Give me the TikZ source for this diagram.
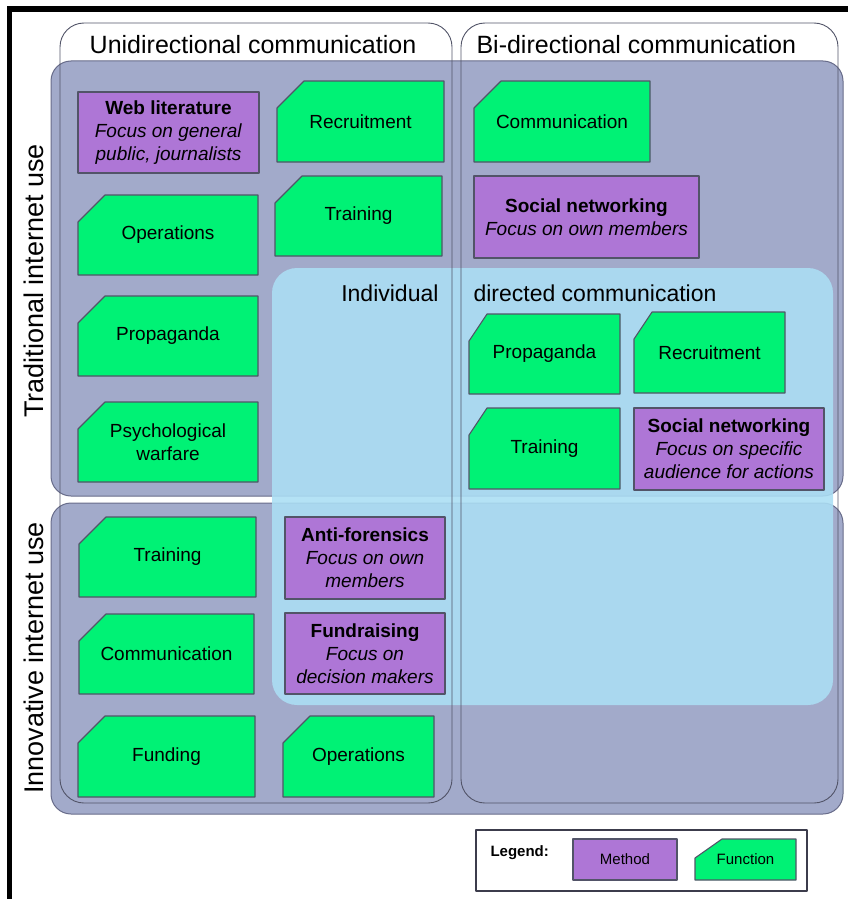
\documentclass[tikz,border=0pt]{standalone}
\usepackage{fontspec}
\setmainfont{Liberation Sans}
\usetikzlibrary{calc}

\definecolor{fngreen}{RGB}{0,242,117}
\definecolor{methodpurple}{RGB}{174,118,214}
\definecolor{usegrey}{RGB}{162,170,202}
\definecolor{useedge}{RGB}{104,108,138}
\definecolor{indblue}{RGB}{171,222,244}
\definecolor{boxedge}{RGB}{82,84,104}
\definecolor{legendedge}{RGB}{60,60,76}

% size of the cut corner of a function box
\def\cutx{27}
\def\cuty{27}

% function box: [label options]{name}{top left}{bottom right}{text}
\newcommand\fnbox[5][]{%
  \path (#3) coordinate (tl) (#4) coordinate (br);
  \filldraw[fnshape] (tl |- br) -| (br |- tl) -- ([xshift=\cutx]tl) -- ([yshift=-\cuty]tl) -- cycle;
  \node[boxlabel,#1] (#2) at ($(tl)!.5!(br)$) {#5};
}
% method box, same arguments
\newcommand\methodbox[5][]{%
  \path (#3) coordinate (tl) (#4) coordinate (br);
  \filldraw[methodshape] (tl) rectangle (br);
  \node[boxlabel,#1] (#2) at ($(tl)!.5!(br)$) {#5};
}

\begin{document}
\begin{tikzpicture}[x=1pt,y=-1pt,line join=round,
  rowbox/.style={fill=usegrey,draw=useedge,line width=1pt,rounded corners=20pt},
  colbox/.style={draw=boxedge,line width=.9pt,rounded corners=24pt},
  fnshape/.style={fill=fngreen,draw=boxedge,line width=1.1pt},
  methodshape/.style={fill=methodpurple,draw=boxedge,line width=1.1pt},
  boxlabel/.style={align=center,inner sep=0pt,font=\fontsize{19}{23}\selectfont},
  heading/.style={anchor=base,font=\fontsize{25}{30}\selectfont},
  rowlabel/.style={anchor=base,rotate=90,font=\fontsize{27}{32}\selectfont},
  indlabel/.style={font=\fontsize{23}{28}\selectfont},
  legendtext/.style={font=\fontsize{15}{18}\selectfont}]
\useasboundingbox (0,0) rectangle (848,899);

% frame
\fill (7,6) rectangle (848,12);
\fill (7,6) rectangle (12,899);

% rows, the individual area and the columns
\draw[rowbox] (51,61) rectangle (843,496);
\draw[rowbox] (51,503) rectangle (843,814);
\fill[indblue,fill opacity=.89,rounded corners=25pt] (272,268) rectangle (833,705);
\draw[colbox] (60,23) rectangle (452,803);
\draw[colbox] (461,23) rectangle (838,803);

\node[heading] (uni) at (253,53) {Unidirectional communication};
\node[heading,anchor=base west] (bi) at (473,53) {Bi-directional communication};
\node[rowlabel] (trad) at (43,281) {Traditional internet use};
\node[rowlabel] (innov) at (43,658) {Innovative internet use};
\node[indlabel,anchor=base east] (ind) at (442,301) {Individual};
\node[indlabel,anchor=base west] (dir) at (470,301) {directed communication};

% traditional use
\methodbox{web}{78,92}{259,173}{\textbf{Web literature}\\\textit{Focus on general}\\\textit{public, journalists}};
\fnbox{recruit}{277,81}{444,162}{Recruitment}
\fnbox{oper}{78,195}{258,275}{Operations}
\fnbox{train}{275,176}{442,256}{Training}
\fnbox{propa}{78,296}{258,376}{Propaganda}
\fnbox{psywar}{78,402}{258,482}{Psychological\\warfare}
\fnbox{comm}{474,81}{650,162}{Communication}
\methodbox{socnet}{474,176}{699,258}{\textbf{Social networking}\\\textit{Focus on own members}}

% individual directed
\begin{scope}
\def\cutx{18}
\fnbox{indpropa}{469,314}{620,394}{Propaganda}
\fnbox{indrecruit}{634,312}{785,393}{Recruitment}
\fnbox{indtrain}{469,408}{620,489}{Training}
\end{scope}
\methodbox{indsocnet}{634,408}{824,490}{\textbf{Social networking}\\\textit{Focus on specific}\\\textit{audience for actions}}

% innovative use
\fnbox{newtrain}{79,517}{256,597}{Training}
\fnbox{newcomm}{79,614}{254,694}{Communication}
\fnbox{funding}{78,716}{255,797}{Funding}
\fnbox{newoper}{283,716}{434,797}{Operations}
\methodbox{antifor}{285,517}{445,599}{\textbf{Anti-forensics}\\\textit{Focus on own}\\\textit{members}}
\methodbox{fundr}{285,613}{445,694}{\textbf{Fundraising}\\\textit{Focus on}\\\textit{decision makers}}

% legend
\draw[legendedge,line width=2.3pt] (476,830) rectangle (807,891);
\node[legendtext,anchor=base west] (legend) at (487,856) {\textbf{Legend:}};
\methodbox[legendtext]{keymethod}{573,839}{677,880}{Method}
\begin{scope}
\def\cuty{19}
\fnbox[legendtext]{keyfn}{695,839}{796,880}{Function}
\end{scope}
\end{tikzpicture}
\end{document}
